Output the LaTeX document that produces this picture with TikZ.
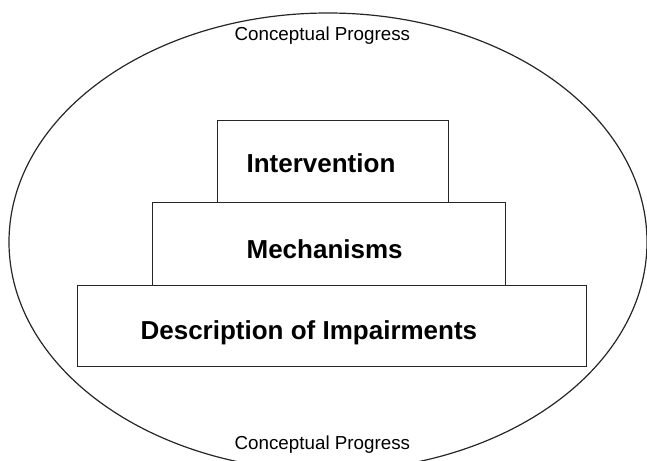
\documentclass[tikz,border=0pt]{standalone}
\usepackage{fontspec}
\setmainfont{Liberation Sans}
\usetikzlibrary{shapes.geometric}
\begin{document}
\begin{tikzpicture}[x=1pt,y=-1pt,
  line width=1.2pt,
  box/.style={draw=black!85, line width=1.3pt, rectangle, inner sep=0pt, anchor=north west},
  boxtext/.style={inner sep=0pt, anchor=base west, font=\fontsize{26}{30}\selectfont\bfseries},
  cptext/.style={inner sep=0pt, anchor=base west, font=\fontsize{18.8}{22}\selectfont}]
\useasboundingbox (0,0) rectangle (647,460);
\clip (0,0) rectangle (647,460);
\node[draw=black!85, ellipse, minimum width=638pt, minimum height=458pt, inner sep=0pt] (outer) at (328,242) {};
\node[box, minimum width=231pt, minimum height=82pt] (intbox) at (217,120) {};
\node[box, minimum width=353pt, minimum height=83pt] (mechbox) at (152,202) {};
\node[box, minimum width=509pt, minimum height=81pt] (descbox) at (77,285) {};
\node[boxtext] (int) at (246,172) {Intervention};
\node[boxtext] (mech) at (246,258) {Mechanisms};
\node[boxtext] (desc) at (140,339) {Description of Impairments};
\node[cptext] (cptop) at (234,41) {Conceptual Progress};
\node[cptext] (cpbot) at (234,449) {Conceptual Progress};
\end{tikzpicture}
\end{document}
